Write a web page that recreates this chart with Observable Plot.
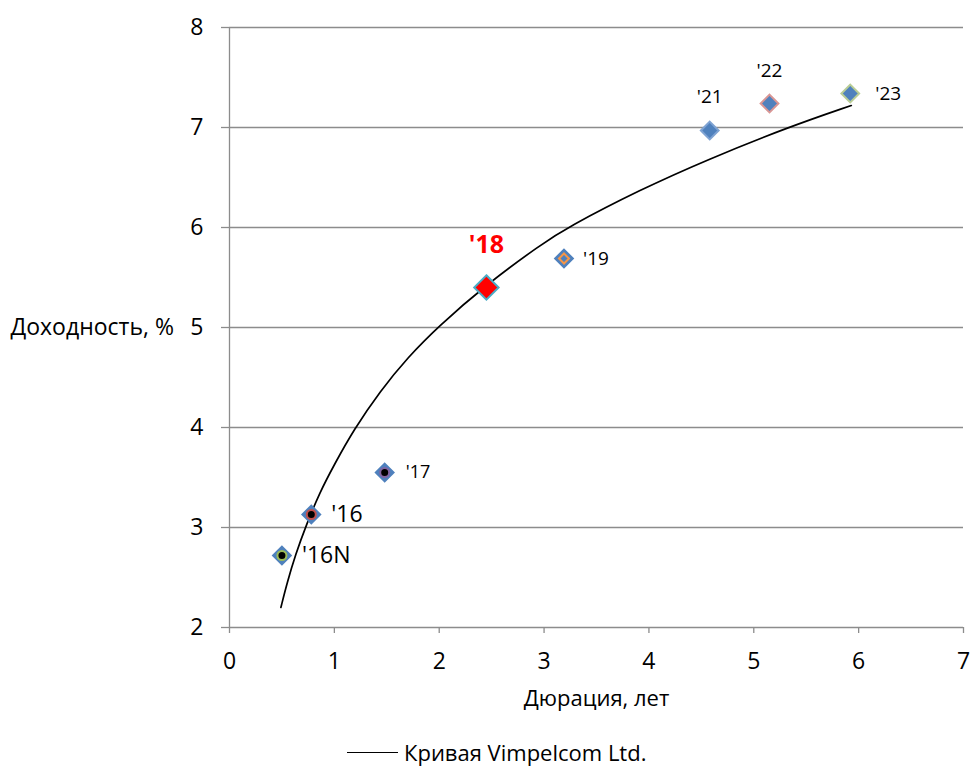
<!DOCTYPE html>
<html>
<head>
<meta charset="utf-8">
<script src="https://cdn.jsdelivr.net/npm/d3@7"></script>
<script src="https://cdn.jsdelivr.net/npm/@observablehq/plot@0.6"></script>
<style>
  html, body { margin: 0; padding: 0; background: #fff; }
  body { font-family: "Open Sans", sans-serif; position: relative; width: 970px; height: 767px; overflow: hidden; }
  #legend { position: absolute; left: 347px; top: 740px; display: flex; align-items: center; }
  #legend .swatch { display: inline-block; width: 51px; height: 0; border-top: 1.6px solid #000; }
  #legend .lbl { margin-left: 6px; font-size: 22px; line-height: 24px; color: #000; white-space: nowrap; }
</style>
</head>
<body>
<div id="chart"></div>
<div id="legend"><span class="swatch"></span><span class="lbl" id="legendText"></span></div>
<script>
// ---- data ----
const bondNames = ["'16N", "'16", "'17", "'18", "'19", "'21", "'22", "'23"];
const durations = [0.50, 0.78, 1.48, 2.45, 3.19, 4.58, 5.15, 5.92];
const yields    = [2.72, 3.13, 3.55, 5.40, 5.69, 6.97, 7.24, 7.34];

const curveDurations = [0.49, 0.55, 0.63, 0.73, 0.86, 1.00, 1.18, 1.44, 1.70, 1.98, 2.45, 2.97, 3.22, 3.92, 4.56, 5.32, 5.93];
const curveYields    = [2.20, 2.45, 2.73, 3.02, 3.35, 3.63, 3.97, 4.37, 4.70, 5.00, 5.43, 5.83, 6.00, 6.38, 6.68, 7.00, 7.22];

const xTicks = [0, 1, 2, 3, 4, 5, 6, 7];
const yTicks = [2, 3, 4, 5, 6, 7, 8];

const xLabel = "Дюрация, лет";
const yLabel = "Доходность, %";
const legendLabel = "Кривая Vimpelcom Ltd.";

// ---- styles (kept separate from data) ----
const markerFill   = ["#4F81BD", "#4F81BD", "#4F81BD", "#FF0000", "#4F81BD", "#4F81BD", "#4F81BD", "#4F81BD"];
const markerStroke = ["#4F81BD", "#4F81BD", "#4F81BD", "#4BACC6", "#4F81BD", "#7FA3D3", "#D99694", "#B9CD96"];
const markerR      = [8, 8, 8, 11, 8, 8, 8, 8];
const innerKind    = ["dot", "dot", "dot", null, "diamond", null, null, null];
const innerStroke  = ["#9BBB59", "#C0504D", "#8064A2", null, "#F79646", null, null, null];
const labelDx      = [20, 20, 21, 0, 19, 0, 0, 25];
const labelDy      = [0, 0, 0, -43, 0, -34, -33, 0];
const labelAnchor  = ["start", "start", "start", "middle", "start", "middle", "middle", "start"];
const labelSize    = [23, 23, 18, 25, 19, 19, 19, 19];
const labelWeight  = ["normal", "normal", "normal", "bold", "normal", "normal", "normal", "normal"];
const labelColor   = ["#000", "#000", "#000", "#FF0000", "#000", "#000", "#000", "#000"];

const bonds = bondNames.map((name, i) => ({
  name, dur: durations[i], yld: yields[i],
  fill: markerFill[i], stroke: markerStroke[i], r: markerR[i],
  inner: innerKind[i], innerStroke: innerStroke[i]
}));
const curve = curveDurations.map((d, i) => ({dur: d, yld: curveYields[i]}));

const gridColor = "#8C8C8C";

const labelMarks = bonds.map((b, i) => Plot.text([b], {
  x: "dur", y: "yld", text: "name",
  dx: labelDx[i], dy: labelDy[i], textAnchor: labelAnchor[i],
  fontSize: labelSize[i], fontWeight: labelWeight[i], fill: labelColor[i]
}));

const chart = Plot.plot({
  width: 970,
  height: 732,
  marginLeft: 229,
  marginRight: 7,
  marginTop: 27,
  marginBottom: 105,
  style: { fontFamily: '"Open Sans", sans-serif', color: "#000", background: "#fff", overflow: "visible" },
  x: { domain: [0, 7] },
  y: { domain: [2, 8] },
  color: { type: "identity" },
  marks: [
    Plot.ruleY(yTicks, { stroke: gridColor, strokeWidth: 1.3 }),
    Plot.ruleX([0], { stroke: gridColor, strokeWidth: 1.3 }),
    Plot.axisY(yTicks, { tickSize: 8, tickPadding: 18, fontSize: 23, label: null, tickFormat: d => String(d), stroke: gridColor, strokeWidth: 1.3, fill: "#000" }),
    Plot.axisX(xTicks, { tickSize: 6, tickPadding: 19, fontSize: 23, label: null, tickFormat: d => String(d), stroke: gridColor, strokeWidth: 1.3, fill: "#000" }),
    Plot.text([yLabel], { frameAnchor: "left", dx: -219, textAnchor: "start", fontSize: 23, fill: "#000" }),
    Plot.text([xLabel], { frameAnchor: "bottom", dy: 78, fontSize: 22, fill: "#000" }),
    Plot.line(curve, { x: "dur", y: "yld", curve: "basis", stroke: "#000", strokeWidth: 1.7 }),
    Plot.dot(bonds, { x: "dur", y: "yld", symbol: "diamond2", r: 8, filter: d => d.r === 8, fill: "fill", stroke: "stroke", strokeWidth: 2 }),
    Plot.dot(bonds, { x: "dur", y: "yld", symbol: "diamond2", r: 11, filter: d => d.r === 11, fill: "fill", stroke: "stroke", strokeWidth: 2 }),
    Plot.dot(bonds, { x: "dur", y: "yld", symbol: "circle", r: 4.5, filter: d => d.inner === "dot", fill: "#000", stroke: "innerStroke", strokeWidth: 2 }),
    Plot.dot(bonds, { x: "dur", y: "yld", symbol: "diamond2", r: 4.5, filter: d => d.inner === "diamond", fill: "#4F81BD", stroke: "innerStroke", strokeWidth: 2 }),
    ...labelMarks
  ]
});

document.getElementById("chart").appendChild(chart);
document.getElementById("legendText").textContent = legendLabel;
</script>
</body>
</html>
